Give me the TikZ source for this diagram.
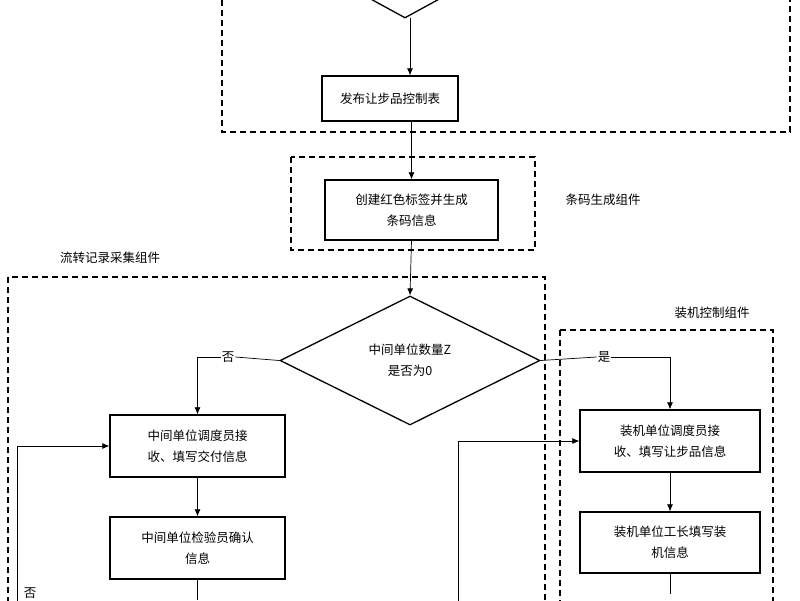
\documentclass[tikz,border=0pt]{standalone}
\usepackage{fontspec}
\setmainfont{Noto Sans CJK SC}
\usetikzlibrary{shapes.geometric,arrows.meta}
\begin{document}
\begin{tikzpicture}[x=1pt,y=-1pt,
  box/.style={draw,line width=1.3pt,minimum width=#1,minimum height=60pt,align=center,font=\fontsize{12.5}{21}\selectfont,inner sep=0pt},
  dbox/.style={draw,dashed,line width=1.3pt,dash pattern=on 6pt off 4pt},
  lbl/.style={font=\fontsize{12.5}{15}\selectfont,inner sep=1pt},
  arr/.style={-{Latex[length=7pt,width=6pt]},line width=0.7pt},
  ln/.style={line width=0.7pt}]
\useasboundingbox (0,0) rectangle (800,600);
\begin{scope}
\clip (0,0) rectangle (800,600);
\draw[dbox] (222,-10) rectangle (790,132);
\node[draw,diamond,line width=1.3pt,minimum width=212pt,minimum height=116pt,inner sep=0pt] (d0) at (405,-40) {};
\node[box=136pt,minimum height=45pt] (b1) at (390,98.5) {发布让步品控制表};
\draw[dbox] (291,157) rectangle (535,250);
\node[box=173pt] (b2) at (411.5,210) {创建红色标签并生成\\条码信息};
\node[lbl] (l1) at (603,200) {条码生成组件};
\node[lbl] (l2) at (110,258) {流转记录采集组件};
\draw[dbox] (8,277) rectangle (545,610);
\node[draw,diamond,line width=1.3pt,minimum width=260pt,minimum height=129pt,inner sep=0pt,align=center,font=\fontsize{12.5}{21}\selectfont] (d1) at (410,360.5) {中间单位数量Z\\是否为0};
\node[box=175pt,minimum height=62pt] (b3) at (197.5,446) {中间单位调度员接\\收、填写交付信息};
\node[box=175pt,minimum height=62pt] (b4) at (197.5,548) {中间单位检验员确认\\信息};
\node[lbl] (l3) at (712,313) {装机控制组件};
\draw[dbox] (560,330) rectangle (773,610);
\node[box=180pt,minimum height=62pt] (b5) at (670,441) {装机单位调度员接\\收、填写让步品信息};
\node[box=180pt,minimum height=61pt] (b6) at (670,542.5) {装机单位工长填写装\\机信息};
\node[lbl] (n1) at (228,357) {否};
\node[lbl] (y1) at (604,357) {是};
\node[lbl] (n2) at (30,593) {否};
\coordinate (c1) at (410,18);
\coordinate (bl) at (17,610);
\coordinate (bm) at (458,610);
\draw[arr] (c1) -- (c1|-b1.north);
\draw[arr] (b1.south -| b2.north) -- (b2.north);
\draw[arr] (b2.south) -- (d1.north);
\draw[ln] (d1.west) -- (n1.east);
\draw[arr] (n1.west) -| (b3.north);
\draw[arr] (b3.south) -- (b4.north);
\draw[ln] (b4.south) -- ++(0,20);
\draw[ln] (d1.east) -- (y1.west);
\draw[arr] (y1.east) -| (b5.north);
\draw[arr] (b5.south) -- (b6.north);
\draw[ln] (b6.south) -- ++(0,20);
\draw[arr] (bl) |- (b3.west);
\draw[arr] (bm) |- (b5.west);
\end{scope}
\end{tikzpicture}
\end{document}
